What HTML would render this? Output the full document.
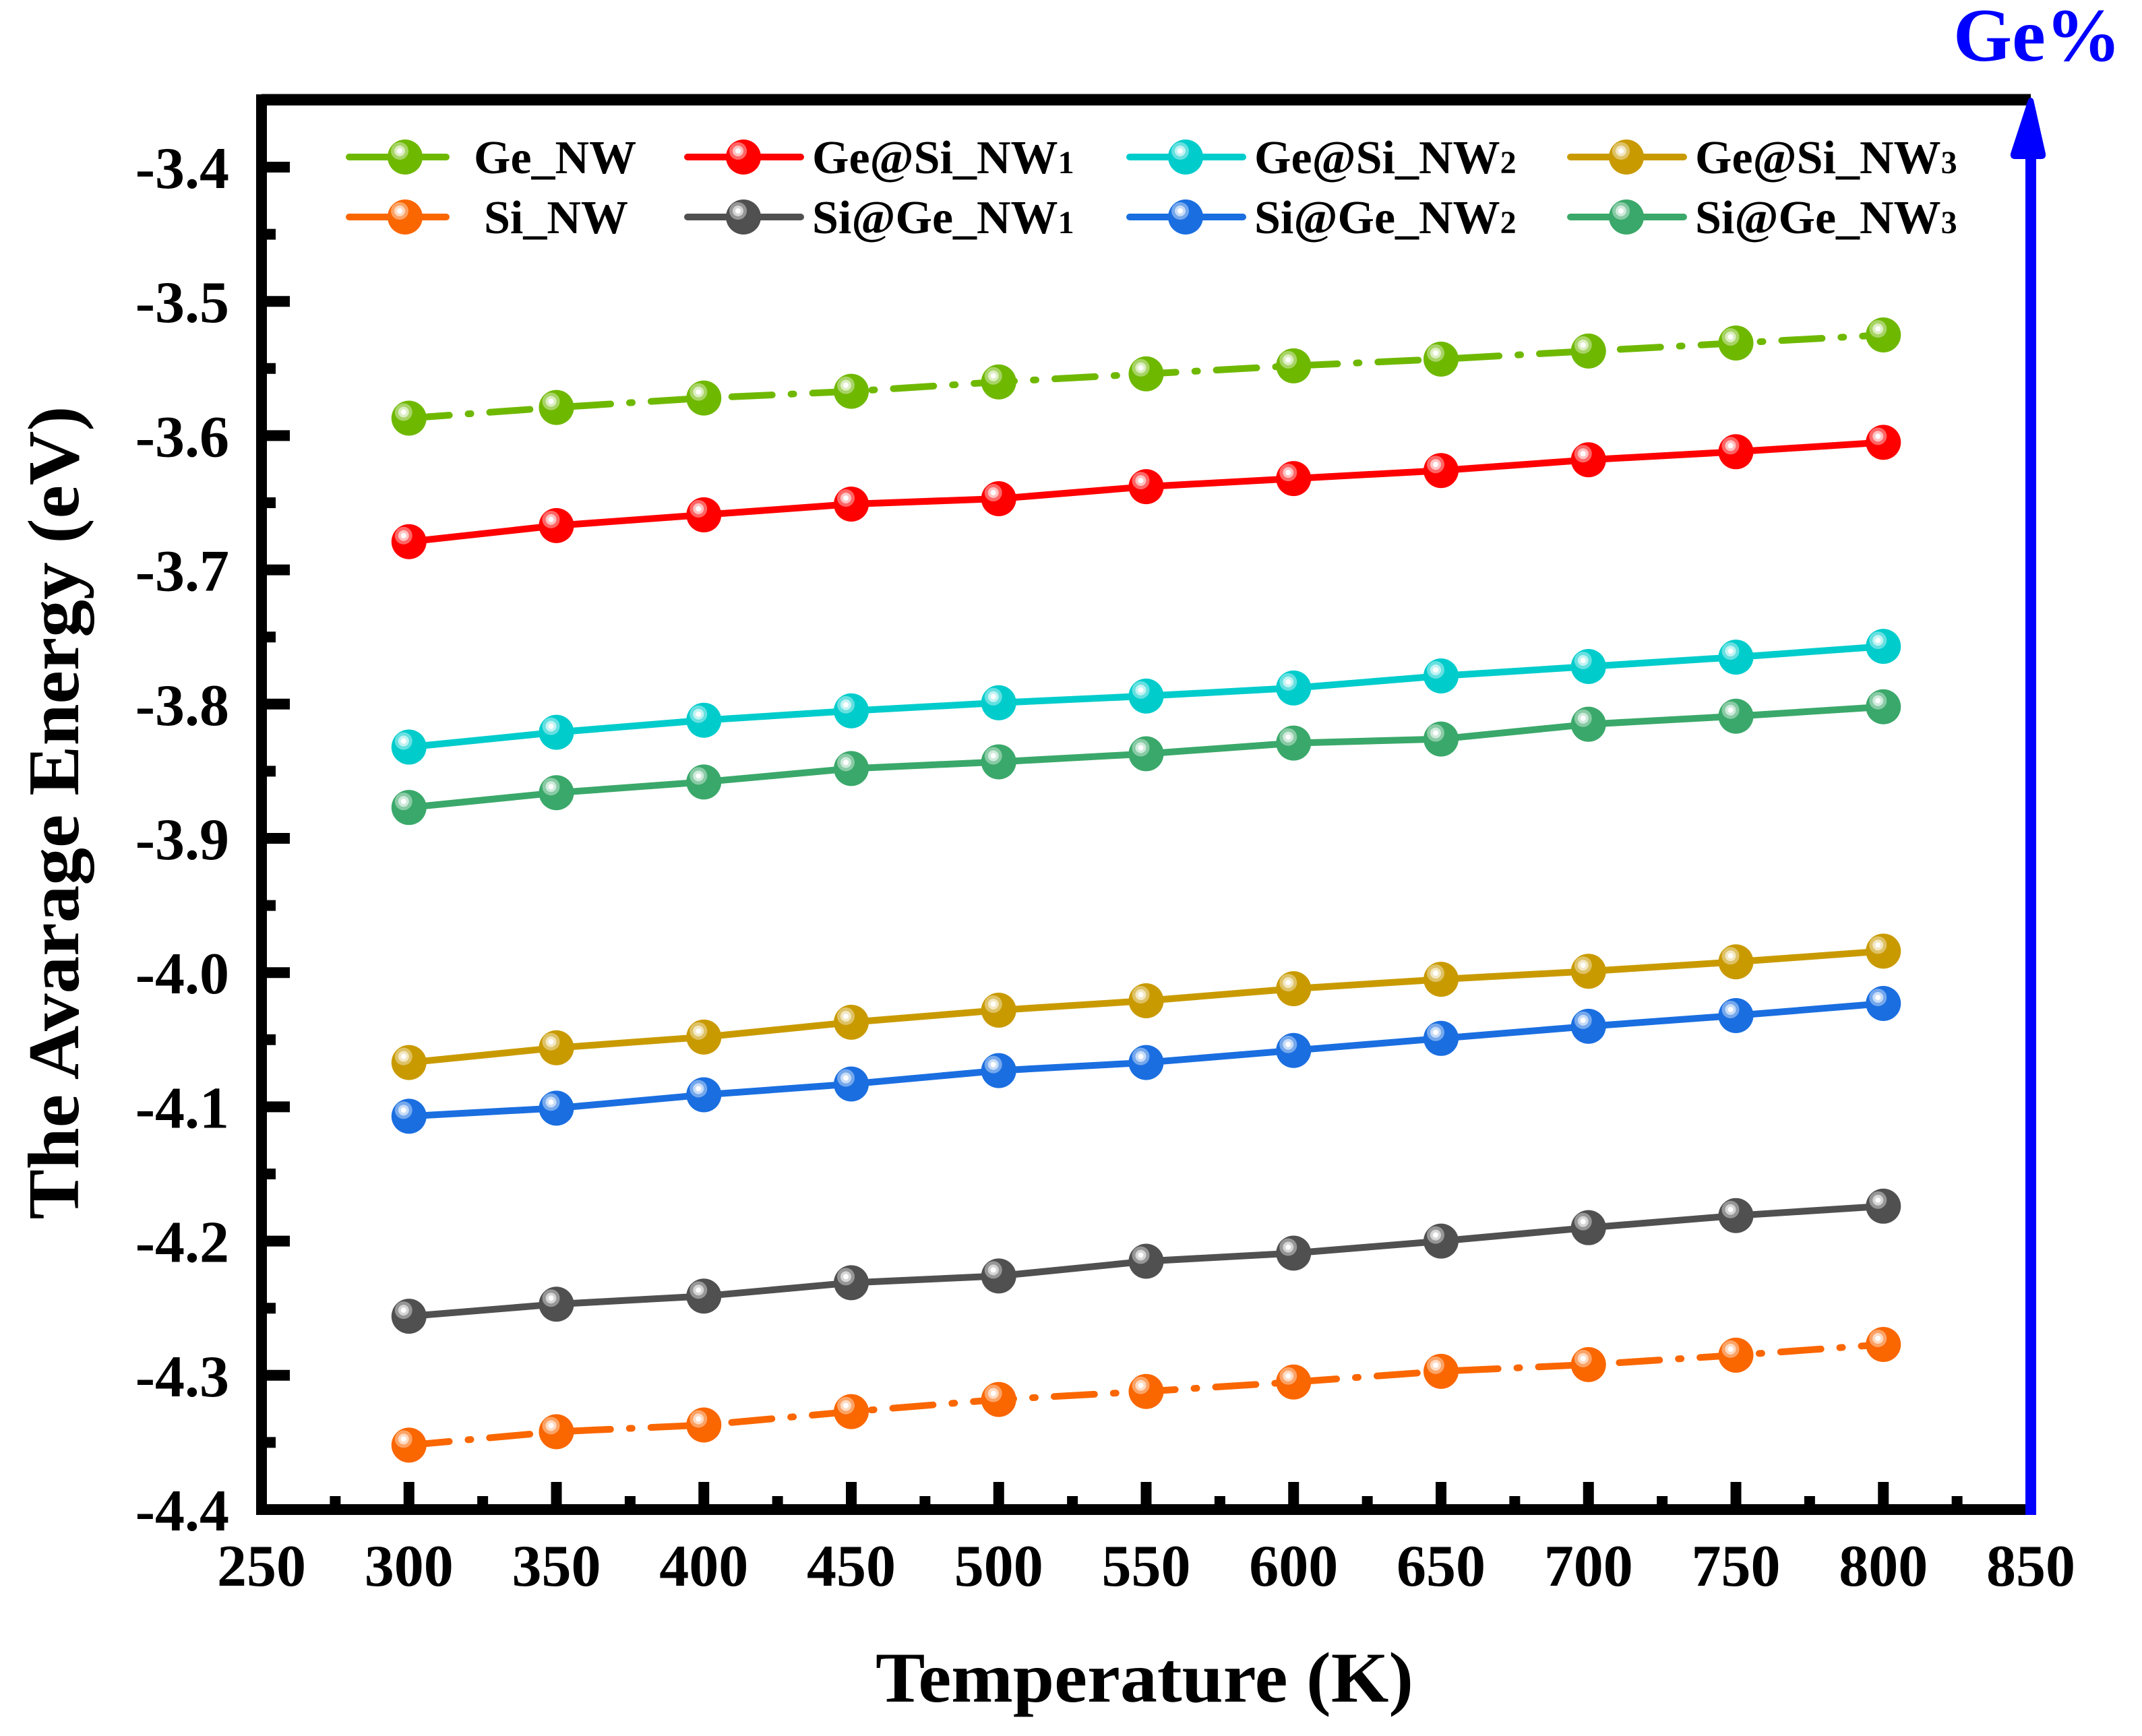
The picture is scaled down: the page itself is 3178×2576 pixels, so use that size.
<!DOCTYPE html>
<html><head><meta charset="utf-8"><style>
html,body{margin:0;padding:0;background:#fff}
svg{display:block}
text{font-family:"Liberation Serif",serif;font-weight:bold}
</style></head><body>
<svg id="chart" width="3178" height="2576" viewBox="0 0 3178 2576" xmlns="http://www.w3.org/2000/svg">
<g id="grid"></g>
</svg>
<script>
const temps = [300,350,400,450,500,550,600,650,700,750,800];
const geNW = [-3.587,-3.579,-3.572,-3.567,-3.560,-3.554,-3.548,-3.543,-3.537,-3.531,-3.525];
const siNW = [-4.352,-4.342,-4.337,-4.327,-4.318,-4.312,-4.305,-4.297,-4.292,-4.285,-4.277];
const geSi1 = [-3.679,-3.667,-3.659,-3.651,-3.647,-3.638,-3.632,-3.626,-3.618,-3.612,-3.605];
const siGe1 = [-4.256,-4.247,-4.241,-4.231,-4.226,-4.215,-4.209,-4.200,-4.190,-4.181,-4.174];
const geSi2 = [-3.832,-3.821,-3.812,-3.805,-3.799,-3.794,-3.788,-3.779,-3.772,-3.765,-3.757];
const siGe2 = [-4.107,-4.101,-4.091,-4.083,-4.073,-4.067,-4.058,-4.049,-4.040,-4.032,-4.023];
const geSi3 = [-4.067,-4.056,-4.048,-4.037,-4.028,-4.021,-4.012,-4.005,-3.999,-3.992,-3.984];
const siGe3 = [-3.877,-3.866,-3.858,-3.848,-3.843,-3.837,-3.829,-3.826,-3.815,-3.809,-3.802];
const xTicks = [250,300,350,400,450,500,550,600,650,700,750,800,850];
const yTicks = [-3.4,-3.5,-3.6,-3.7,-3.8,-3.9,-4.0,-4.1,-4.2,-4.3,-4.4];

const NS="http://www.w3.org/2000/svg";
const svg=document.getElementById('chart');
const X0=388, X1=3013, Y0=148, Y1=2240;
const xMin=250,xMax=850,yMin=-4.4,yMax=-3.35;
const yTop=-3.4, yTopPx=248;
function xs(v){return X0+(v-xMin)/(xMax-xMin)*(X1-X0);}
function ys(v){return yTopPx+(yTop-v)/(yTop-yMin)*(Y1-yTopPx);}
function mk(tag,attrs,parent){const e=document.createElementNS(NS,tag);for(const k in attrs)e.setAttribute(k,attrs[k]);(parent||svg).appendChild(e);return e;}

const defs=mk('defs',{});
const series=[
 {name:'Ge_NW',sub:'',data:geNW,color:'#6fb800',dash:true,col:0,row:0},
 {name:'Si_NW',sub:'',data:siNW,color:'#fa6600',dash:true,col:0,row:1},
 {name:'Ge@Si_NW',sub:'1',data:geSi1,color:'#ff0000',dash:false,col:1,row:0},
 {name:'Si@Ge_NW',sub:'1',data:siGe1,color:'#505050',dash:false,col:1,row:1},
 {name:'Ge@Si_NW',sub:'2',data:geSi2,color:'#00cccc',dash:false,col:2,row:0},
 {name:'Si@Ge_NW',sub:'2',data:siGe2,color:'#1a6ee0',dash:false,col:2,row:1},
 {name:'Ge@Si_NW',sub:'3',data:geSi3,color:'#c99a00',dash:false,col:3,row:0},
 {name:'Si@Ge_NW',sub:'3',data:siGe3,color:'#3aa86a',dash:false,col:3,row:1}
];
const DASH='60 28 4 28';

function marker(x,y,color,g){
  mk('circle',{cx:x,cy:y,r:26,fill:color},g);
  mk('circle',{cx:x-8,cy:y-9,r:13,fill:'#fff','fill-opacity':0.4},g);
  mk('circle',{cx:x-8,cy:y-9,r:8,fill:'#fff','fill-opacity':0.6},g);
  mk('circle',{cx:x-8,cy:y-9,r:4,fill:'#fff'},g);
}

// series
series.forEach((s,i)=>{
  const g=mk('g',{});
  
  
  let d='';
  s.data.forEach((v,j)=>{d+=(j?'L':'M')+xs(temps[j]).toFixed(1)+' '+ys(v).toFixed(1);});
  const p=mk('path',{d:d,fill:'none',stroke:s.color,'stroke-width':10,'stroke-linecap':'round','stroke-linejoin':'round'},g);
  if(s.dash)p.setAttribute('stroke-dasharray',DASH);
  
  
  s.data.forEach((v,j)=>{
    const mg=mk('g',{},g);
    
    
    marker(xs(temps[j]),ys(v),s.color,mg);
  });
});

// axes
const ax=mk('g',{});


mk('line',{x1:X0,y1:Y0,x2:X1,y2:Y0,stroke:'#000','stroke-width':17},ax);
mk('line',{x1:X0,y1:Y0-8,x2:X0,y2:Y1+8,stroke:'#000','stroke-width':16},ax);
mk('line',{x1:X0-8,y1:Y1,x2:X1,y2:Y1,stroke:'#000','stroke-width':16},ax);
// y ticks
yTicks.forEach((v,i)=>{
  const y=ys(v);
  mk('line',{x1:X0,y1:y,x2:X0+42,y2:y,stroke:'#000','stroke-width':16},ax);
  const t=mk('text',{x:340,y:y+31,'font-size':88,'text-anchor':'end'},ax);
  t.textContent=v.toFixed(1);
  
  
  if(i<yTicks.length-1){const ym=ys(v-0.05);mk('line',{x1:X0,y1:ym,x2:X0+21,y2:ym,stroke:'#000','stroke-width':16},ax);}
});
// x ticks
xTicks.forEach((v,i)=>{
  const x=xs(v);
  if(i>0&&i<xTicks.length-1)mk('line',{x1:x,y1:Y1,x2:x,y2:Y1-41,stroke:'#000','stroke-width':16},ax);
  const t=mk('text',{x:x,y:2353,'font-size':88,'text-anchor':'middle'},ax);
  t.textContent=v;
  
  
  if(i<xTicks.length-1){const xm=xs(v+25);mk('line',{x1:xm,y1:Y1,x2:xm,y2:Y1-20,stroke:'#000','stroke-width':16},ax);}
});
// blue right axis with arrow
const ba=mk('g',{});


mk('rect',{x:X1-8,y:225,width:16,height:Y1+8-225,fill:'#0000ff'},ba);
mk('path',{d:'M3009 148 Q3013 142 3017 148 L3035 228 Q3036 236 3028 236 L2990 236 Q2982 236 2983 228 Z',fill:'#0000ff'},ba);
const gp=mk('text',{x:2898,y:90,'font-size':112,fill:'#0000ff'});
gp.textContent='Ge%';



// titles
const xt=mk('text',{x:1698,y:2525,'font-size':106,'text-anchor':'middle',textLength:798,lengthAdjust:'spacingAndGlyphs'});
xt.textContent='Temperature (K)';


const yt=mk('text',{x:0,y:0,'font-size':108,'text-anchor':'middle',transform:'translate(116 1206) rotate(-90)',textLength:1207,lengthAdjust:'spacingAndGlyphs'});
yt.textContent='The Avarage Energy (eV)';



// legend
const lg=mk('g',{});


const colX=[518,1020,1676,2330];
const rowY=[233,322];
series.forEach(s=>{
  const e=mk('g',{},lg);
  
  
  const x=colX[s.col], y=rowY[s.row];
  const l=mk('line',{x1:x,y1:y,x2:x+168,y2:y,stroke:s.color,'stroke-width':10,'stroke-linecap':'round'},e);
  if(s.dash)l.setAttribute('stroke-dasharray','80 24 40 100');
  marker(x+83,y,s.color,e);
  const t=mk('text',{x:x+(s.col===0&&s.row===1?200:185),y:y+24,'font-size':70},e);
  t.textContent=s.name;
  if(s.sub){const ts=mk('tspan',{'font-size':48},t);ts.textContent=s.sub;}
});
</script>
</body></html>
